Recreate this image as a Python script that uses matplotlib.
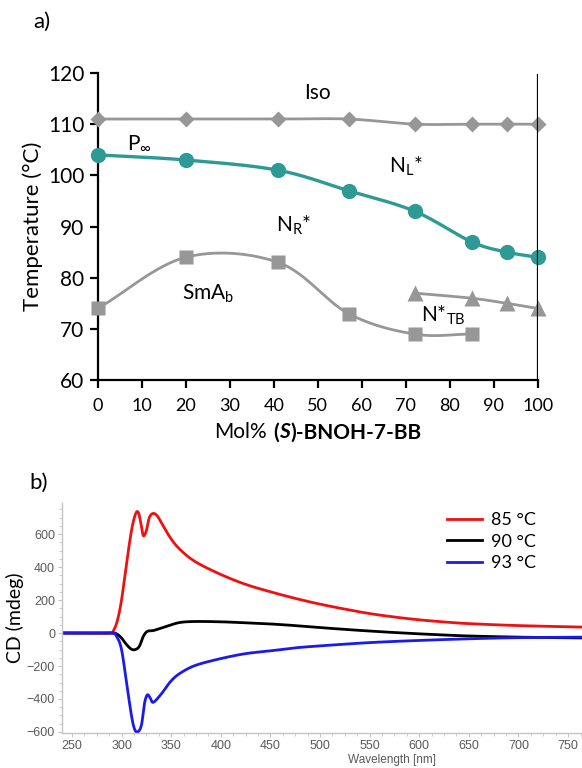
import numpy as np
import matplotlib
matplotlib.use('Agg')
import matplotlib.pyplot as plt
from matplotlib.ticker import MultipleLocator, AutoMinorLocator
from matplotlib.offsetbox import TextArea, HPacker, AnchoredOffsetbox

plt.rcParams['font.family'] = ['Lato', 'DejaVu Sans']
plt.rcParams['mathtext.fontset'] = 'custom'
plt.rcParams['mathtext.rm'] = 'Lato'
plt.rcParams['mathtext.it'] = 'Lato:italic'
plt.rcParams['mathtext.bf'] = 'Lato:bold'

# ---- panel a) phase diagram data ----
mol_iso = [0, 20, 41, 57, 72, 85, 93, 100]
t_iso = [111, 111, 111, 111, 110, 110, 110, 110]
mol_nl = [0, 20, 41, 57, 72, 85, 93, 100]
t_nl = [104, 103, 101, 97, 93, 87, 85, 84]
mol_sma = [0, 20, 41, 57, 72, 85]
t_sma = [74, 84, 83, 73, 69, 69]
mol_ntb = [72, 85, 93, 100]
t_ntb = [77, 76, 75, 74]

# ---- panel b) CD spectra ----
wl_85 = [240, 270, 288, 292, 296, 300, 305, 310, 314, 317, 320, 322, 325, 328, 332, 336, 340,
         350, 360, 375, 400, 425, 450, 475, 500, 525, 550, 575, 600, 625, 650, 700, 764]
cd_85 = [0, 0, 0, 15, 80, 200, 420, 620, 720, 730, 650, 590, 620, 700, 725, 710, 670,
         570, 500, 430, 355, 295, 250, 210, 175, 145, 118, 97, 80, 67, 57, 45, 36]
wl_90 = [240, 270, 290, 295, 300, 305, 310, 314, 318, 322, 326, 332, 340, 350, 360, 375, 400,
         425, 450, 475, 500, 525, 550, 575, 600, 625, 650, 700, 764]
cd_90 = [0, 0, 0, -5, -30, -70, -98, -100, -80, -20, 10, 15, 30, 50, 65, 70, 68,
         62, 55, 45, 33, 22, 12, 3, -5, -12, -18, -25, -30]
wl_93 = [240, 270, 290, 295, 300, 305, 310, 313, 316, 320, 323, 326, 329, 332, 340, 350, 360,
         375, 400, 425, 450, 475, 500, 550, 600, 650, 700, 764]
cd_93 = [0, 0, 0, -20, -100, -300, -500, -580, -600, -560, -430, -375, -395, -420, -370, -290, -240,
         -195, -155, -125, -108, -90, -78, -58, -45, -35, -28, -25]

gray = '#979797'
teal = '#2e9a95'


def catmull(x, y, n=24):
    # smoothed line like the spreadsheet "smooth line" option
    x = np.asarray(x, float)
    y = np.asarray(y, float)
    px = np.concatenate([[2*x[0]-x[1]], x, [2*x[-1]-x[-2]]])
    py = np.concatenate([[2*y[0]-y[1]], y, [2*y[-1]-y[-2]]])
    xs, ys = [], []
    t = np.linspace(0, 1, n)
    for i in range(1, len(px)-2):
        for P, out in ((px, xs), (py, ys)):
            p0, p1, p2, p3 = P[i-1], P[i], P[i+1], P[i+2]
            out.extend(0.5*((2*p1) + (-p0+p2)*t + (2*p0-5*p1+4*p2-p3)*t**2 + (-p0+3*p1-3*p2+p3)*t**3))
    return np.array(xs), np.array(ys)


fig = plt.figure(figsize=(5.82, 7.68), dpi=100)

# ================= panel a =================
ax = fig.add_axes([0.168, 0.505, 0.756, 0.40])
for xs, ys, mk, ms, col, lw in [(mol_iso, t_iso, 'D', 8.3, gray, 2.0),
                                (mol_sma, t_sma, 's', 9.5, gray, 2.0),
                                (mol_ntb, t_ntb, '^', 11, gray, 2.0),
                                (mol_nl, t_nl, 'o', 11, teal, 2.4)]:
    sx, sy = catmull(xs, ys)
    ax.plot(sx, sy, '-', color=col, lw=lw, clip_on=False, zorder=2)
    ax.plot(xs, ys, mk, color=col, ms=ms, clip_on=False, zorder=3, mec='none')

ax.set_xlim(0, 100)
ax.set_ylim(60, 120)
ax.xaxis.set_major_locator(MultipleLocator(10))
ax.yaxis.set_major_locator(MultipleLocator(10))
ax.spines['top'].set_visible(False)
ax.spines['right'].set_visible(False)
for s in ('left', 'bottom'):
    ax.spines[s].set_linewidth(1.6)
ax.axvline(100, ymin=0, ymax=0.993, color='black', lw=1.6, zorder=4)
ax.tick_params(axis='both', direction='out', length=6, width=1.6)
ax.tick_params(axis='y', labelsize=15)
ax.tick_params(axis='x', labelsize=13, pad=7)
ax.set_ylabel('Temperature (°C)', fontsize=16, labelpad=4)

# x label with mixed bold / bold italic parts
lab = HPacker(children=[TextArea('Mol%', textprops=dict(size=15)),
                        HPacker(children=[TextArea('(', textprops=dict(size=15, weight='bold')),
                                          TextArea('S', textprops=dict(size=15, weight='bold', style='italic')),
                                          TextArea(')-BNOH-7-BB', textprops=dict(size=15, weight='bold'))],
                                pad=0, sep=0)],
              pad=0, sep=5, align='baseline')
abox = AnchoredOffsetbox(loc='center', child=lab, frameon=False, pad=0,
                         bbox_to_anchor=(0.5, -0.17), bbox_transform=ax.transAxes)
ax.add_artist(abox)

ax.text(50, 116, 'Iso', fontsize=15, ha='center', va='center')
ax.text(9.5, 106.3, r'P$_\infty$', fontsize=15, ha='center', va='center')
ax.text(70, 101.8, r'N$_\mathrm{L}$*', fontsize=15, ha='center', va='center')
ax.text(44.5, 90.3, r'N$_\mathrm{R}$*', fontsize=15, ha='center', va='center')
ax.text(25, 76.8, r'SmA$_\mathrm{b}$', fontsize=15, ha='center', va='center')
ax.text(78.5, 72.6, r'N*$_\mathrm{TB}$', fontsize=15, ha='center', va='center')

fig.text(0.072, 0.971, 'a)', fontsize=16, ha='center', va='center')

# ================= panel b =================
bx = fig.add_axes([0.1065, 0.0456, 0.8935, 0.2994])
for wl, cd, col, lab_ in [(wl_85, cd_85, '#ee1111', '85 °C'),
                          (wl_90, cd_90, 'black', '90 °C'),
                          (wl_93, cd_93, '#1a1aee', '93 °C')]:
    sx, sy = catmull(wl, cd, n=12)
    bx.plot(sx, sy, color=col, lw=2.0, label=lab_, solid_joinstyle='round')
bx.set_xlim(240, 764)
bx.set_ylim(-606, 788)
bx.xaxis.set_major_locator(MultipleLocator(50))
bx.yaxis.set_major_locator(MultipleLocator(200))
bx.xaxis.set_minor_locator(AutoMinorLocator(4))
bx.yaxis.set_minor_locator(AutoMinorLocator(4))
bx.spines['top'].set_visible(False)
bx.spines['right'].set_visible(False)
for s in ('left', 'bottom'):
    bx.spines[s].set_color('#c4c4c4')
    bx.spines[s].set_linewidth(1.0)
bx.tick_params(axis='both', which='major', length=3, color='#c4c4c4', labelcolor='#5a5a5a',
               labelsize=9, pad=2)
bx.tick_params(axis='both', which='minor', length=2, color='#c4c4c4')
for t in bx.get_xticklabels() + bx.get_yticklabels():
    t.set_family(['Liberation Sans', 'DejaVu Sans'])
bx.set_ylabel('CD (mdeg)', fontsize=14, labelpad=2)
bx.text(0.634, -0.118, 'Wavelength [nm]', fontsize=8.5, color='#5a5a5a', ha='center', va='center',
        family=['Liberation Sans', 'DejaVu Sans'], transform=bx.transAxes)
leg = bx.legend(loc='upper left', bbox_to_anchor=(0.71, 1.03), frameon=False, fontsize=13,
                handlelength=1.9, handletextpad=0.5, labelspacing=0.3)
fig.text(0.066, 0.371, 'b)', fontsize=16, ha='center', va='center')

fig.savefig('out.png', dpi=100)
